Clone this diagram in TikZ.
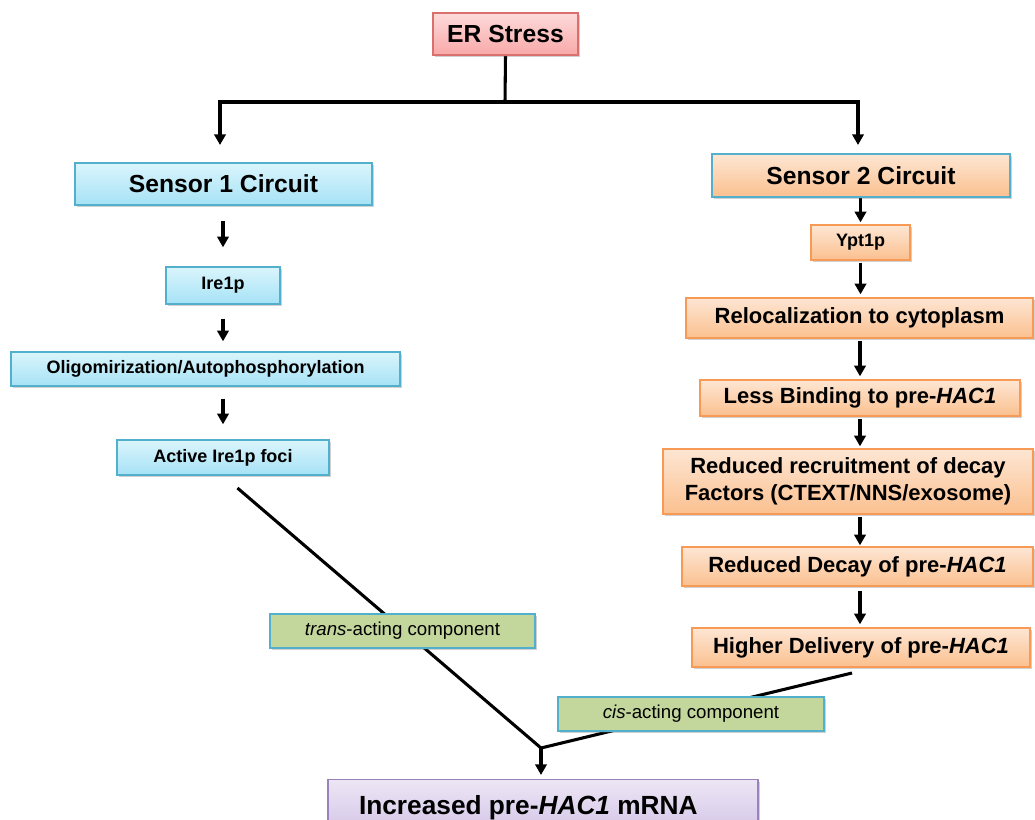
\documentclass[tikz,border=0pt]{standalone}
\usepackage{fontspec}
\setmainfont{Liberation Sans}
\usetikzlibrary{arrows.meta,shadows,backgrounds}
\definecolor{pinkT}{HTML}{FDDADA}
\definecolor{pinkB}{HTML}{F9A8A8}
\definecolor{pinkD}{HTML}{D9706E}
\definecolor{blueT}{HTML}{DAF5FC}
\definecolor{blueB}{HTML}{A6E2F6}
\definecolor{blueD}{HTML}{52B0CC}
\definecolor{oranT}{HTML}{FDE6D3}
\definecolor{oranB}{HTML}{FBC08F}
\definecolor{oranD}{HTML}{F79A55}
\definecolor{greenF}{HTML}{C3D69B}
\definecolor{purT}{HTML}{EDE6F5}
\definecolor{purB}{HTML}{D2C3E7}
\definecolor{purD}{HTML}{9A82BA}
\def\px{0.75pt}
\tikzset{
  base/.style={draw, line width=1pt, align=center, inner sep=0pt, font=\bfseries,
    drop shadow={shadow xshift=1.5pt, shadow yshift=-1.5pt, opacity=0.3, fill=black!60}},
  pinkbox/.style={base, top color=pinkT, bottom color=pinkB, draw=pinkD},
  bluebox/.style={base, top color=blueT, bottom color=blueB, draw=blueD},
  oranbox/.style={base, top color=oranT, bottom color=oranB, draw=oranD},
  s2box/.style={base, top color=oranT, bottom color=oranB, draw=blueD},
  greenbox/.style={base, fill=greenF, draw=blueD, font=\normalfont},
  purbox/.style={base, top color=purT, bottom color=purB, draw=purD},
  conn/.style={line width=2.3pt, black},
  arr/.style={conn, -{Triangle[length=8pt,width=8.5pt]}},
  big/.style={font=\bfseries\fontsize{18.5}{22}\selectfont},
  mid/.style={font=\bfseries\fontsize{16.5}{20}\selectfont},
  small/.style={font=\bfseries\fontsize{13.5}{16}\selectfont},
}
\begin{document}
\begin{tikzpicture}[x=0.75pt,y=-0.75pt]
\useasboundingbox (0,0) rectangle (1035,820);
\clip (0,0) rectangle (1035,820);
% nodes
\node[pinkbox, big, minimum width=145*\px, minimum height=42*\px] (er) at (505.5,34) {ER Stress};
\node[bluebox, big, minimum width=297*\px, minimum height=42*\px] (s1) at (223.5,184) {Sensor 1 Circuit};
\node[s2box, big, minimum width=298*\px, minimum height=43*\px] (s2) at (861,175.5) {Sensor 2 Circuit};
\node[bluebox, small, minimum width=114*\px, minimum height=37*\px] (ire) at (223,285.5) {Ire1p};
\node[bluebox, small, minimum width=389*\px, minimum height=34*\px] (olig) at (205.5,369) {Oligomirization/Autophosphorylation};
\node[bluebox, small, minimum width=212*\px, minimum height=35*\px] (act) at (223,457.5) {Active Ire1p foci};
\node[oranbox, small, minimum width=99*\px, minimum height=35*\px] (ypt) at (860.5,242.5) {Ypt1p};
\node[oranbox, mid, minimum width=347*\px, minimum height=40*\px] (reloc) at (859.5,318) {Relocalization to cytoplasm};
\node[oranbox, mid, minimum width=320*\px, minimum height=36*\px] (less) at (860,398) {Less Binding to pre-\textit{HAC1}};
\node[oranbox, mid, minimum width=370*\px, minimum height=65*\px] (recr) at (848,481.5) {Reduced recruitment of decay\\Factors (CTEXT/NNS/exosome)};
\node[oranbox, mid, minimum width=351*\px, minimum height=39*\px] (decay) at (857.5,566.5) {Reduced Decay of pre-\textit{HAC1}};
\node[oranbox, mid, minimum width=338*\px, minimum height=39*\px] (higher) at (861,647.5) {Higher Delivery of pre-\textit{HAC1}};
\node[greenbox, font=\fontsize{14}{17}\selectfont, minimum width=265*\px, minimum height=34*\px] (trans) at (402.5,631) {\textit{trans}-acting component};
\node[greenbox, font=\fontsize{14}{17}\selectfont, minimum width=266*\px, minimum height=34*\px] (cis) at (691,714) {\textit{cis}-acting component};
\node[purbox, font=\bfseries\fontsize{19.7}{24}\selectfont, minimum width=430*\px, minimum height=56*\px, anchor=north] (inc) at (543,779) {\raisebox{12pt}{}Increased pre-\textit{HAC1} mRNA\hspace*{22pt}};
% coordinates
\coordinate (top) at (505,102);
\coordinate (tl) at (220,102);
\coordinate (tr) at (858,102);
\coordinate (tla) at (220,145);
\coordinate (tra) at (858,145);
\coordinate (j) at (541,748);
\coordinate (hd) at (852,673);
% connectors
\begin{pgfonlayer}{background}
\draw[conn] (er.south) -- (top);
\draw[conn, line cap=rect] (tl) -- (tr);
\draw[arr] (tl) -- (tla);
\draw[arr] (tr) -- (tra);
\draw[arr, shorten <=15*\px, shorten >=19*\px] (ire.north |- s1.south) -- (ire.north);
\draw[arr, shorten <=14*\px, shorten >=10*\px] (ire.south) -- (ire.south |- olig.north);
\draw[arr, shorten <=12*\px, shorten >=15*\px] (act.north |- olig.south) -- (act.north);
\draw[arr, shorten >=2*\px] (ypt.north |- s2.south) -- (ypt.north);
\draw[arr, shorten <=2*\px, shorten >=3*\px] (ypt.south) -- (ypt.south |- reloc.north);
\draw[arr, shorten <=2*\px, shorten >=3*\px] (less.north |- reloc.south) -- (less.north);
\draw[arr, shorten <=2*\px, shorten >=2*\px] (less.south) -- (less.south |- recr.north);
\draw[arr, shorten <=2*\px, shorten >=1*\px] (less.south |- recr.south) -- (less.south |- decay.north);
\draw[arr, shorten <=4*\px, shorten >=3*\px] (less.south |- decay.south) -- (less.south |- higher.north);
\draw[conn, shorten <=19*\px] (act.south) -- (j);
\draw[conn] (hd) -- (j);
\draw[arr, shorten >=4*\px] (j) -- (j |- inc.north);
\end{pgfonlayer}
\end{tikzpicture}
\end{document}
